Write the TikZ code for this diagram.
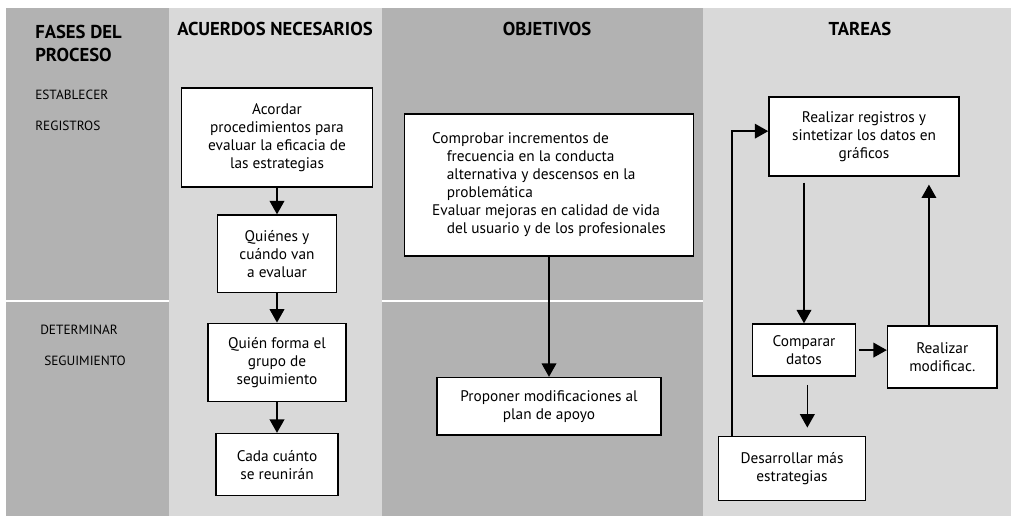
\documentclass[tikz,border=0pt]{standalone}
\usepackage{fontspec}
\setmainfont{PT Sans}
\usetikzlibrary{arrows.meta,calc,positioning}
\definecolor{phaseColor}{RGB}{178,178,178}
\definecolor{laneColor}{RGB}{217,217,217}
\tikzset{task/.style={fill=white, draw, line width=1.2pt, align=center, inner sep=2pt, font=\fontsize{11.5}{13.5}\selectfont}}
\tikzset{header/.style={inner sep=0pt, font=\bfseries\fontsize{14}{17}\selectfont}}
\tikzset{phase/.style={align=left, anchor=north west, inner sep=0pt, font=\fontsize{10}{23}\selectfont}}

\begin{document}
\begin{tikzpicture}[x=0.75pt, y=-0.75pt, node distance=21pt and 23pt]
	\useasboundingbox (0,0) rectangle (1011,516);
	% Columns
	\fill[phaseColor] (6,8) rectangle (169,516);
	\fill[laneColor] (169,8) rectangle (382,516);
	\fill[phaseColor] (382,8) rectangle (703,516);
	\fill[laneColor] (703,8) rectangle (1011,516);
	\draw[white, line width=1pt] (6,301) -- (169,301) (382,301) -- (703,301);

	% Headers
	\node (fases) [header, align=left, anchor=north west] at (35,25) {FASES DEL\\PROCESO};
	\node (acuerdos) [header, anchor=base] at (275,36) {ACUERDOS NECESARIOS};
	\node (objetivos) [header, anchor=base] at (547,36) {OBJETIVOS};
	\node (tareas) [header, anchor=base] at (860,36) {TAREAS};

	\node (establecer) [phase] at (35,90) {ESTABLECER\\REGISTROS};
	\node (determinar) [phase] at (40,325) {DETERMINAR\\\hspace*{3pt}SEGUIMIENTO};

	% Nodes
		\node (acordar) [task, minimum width=143pt, minimum height=74pt] at (277,137.5) {Acordar\\ procedimientos para\\ evaluar la eficacia de\\ las estrategias};
		\node (quienes) [task, below=20pt of acordar, minimum width=89pt, minimum height=58pt] {Quiénes y\\ cuándo van\\ a evaluar};
		\node (grupo) [task, below=22pt of quienes, minimum width=103.5pt, minimum height=58.5pt] {Quién forma el\\ grupo de\\ seguimiento};
		\node (reunion) [task, below=23pt of grupo, minimum width=91.5pt, minimum height=46.5pt] {Cada cuánto\\ se reunirán};

		\node (comprobar) [task, align=left, minimum width=217pt, minimum height=106.5pt] at (549,185) {Comprobar incrementos de\\ \hspace*{11pt}frecuencia en la conducta\\ \hspace*{11pt}alternativa y descensos en la\\ \hspace*{11pt}problemática\\ Evaluar mejoras en calidad de vida\\ \hspace*{11pt}del usuario y de los profesionales};
		\node (proponer) [task, below=90pt of comprobar, minimum width=168pt, minimum height=43pt] {Proponer modificaciones al\\ plan de apoyo};

		\node (registros) [task, minimum width=142.5pt, minimum height=59pt] at (864,136.5) {Realizar registros y\\ sintetizar los datos en\\ gráficos};
		\node (comparar) [task, below=110pt of registros, xshift=-45pt, minimum width=77pt, minimum height=39pt] {Comparar\\ datos};
		\node (modificar) [task, right=of comparar, yshift=-5pt, minimum width=82pt, minimum height=46.5pt] {Realizar\\ modificac.};
		\node (desarrollar) [task, below=44pt of comparar, xshift=-9pt, minimum width=110pt, minimum height=48pt] {Desarrollar más\\ estrategias};

		% Connectors
		\begin{scope}[-{Triangle[width=11pt, length=10pt]}, line width=1pt]

		\draw (acordar) -- (quienes);
		\draw (quienes) -- (grupo);
		\draw (grupo) -- (reunion);

		\draw (comprobar) -- (proponer);

		\draw [shorten <=4.5pt] (comparar.north |- registros.south) -- (comparar);
		\draw [shorten <=2pt] (comparar) -- (comparar -| modificar.west);
		\draw [shorten >=6pt] ([xshift=-10pt]modificar.north) -- ([xshift=-10pt]modificar.north |- registros.south);
		\draw [shorten <=6pt, shorten >=6pt] ([xshift=2.5pt]comparar.south) -- ([xshift=2.5pt]comparar.south |- desarrollar.north);
		\draw ([xshift=10.5pt]desarrollar.north west) |- ([yshift=4pt]registros.west);

	\end{scope}

\end{tikzpicture}
\end{document}
